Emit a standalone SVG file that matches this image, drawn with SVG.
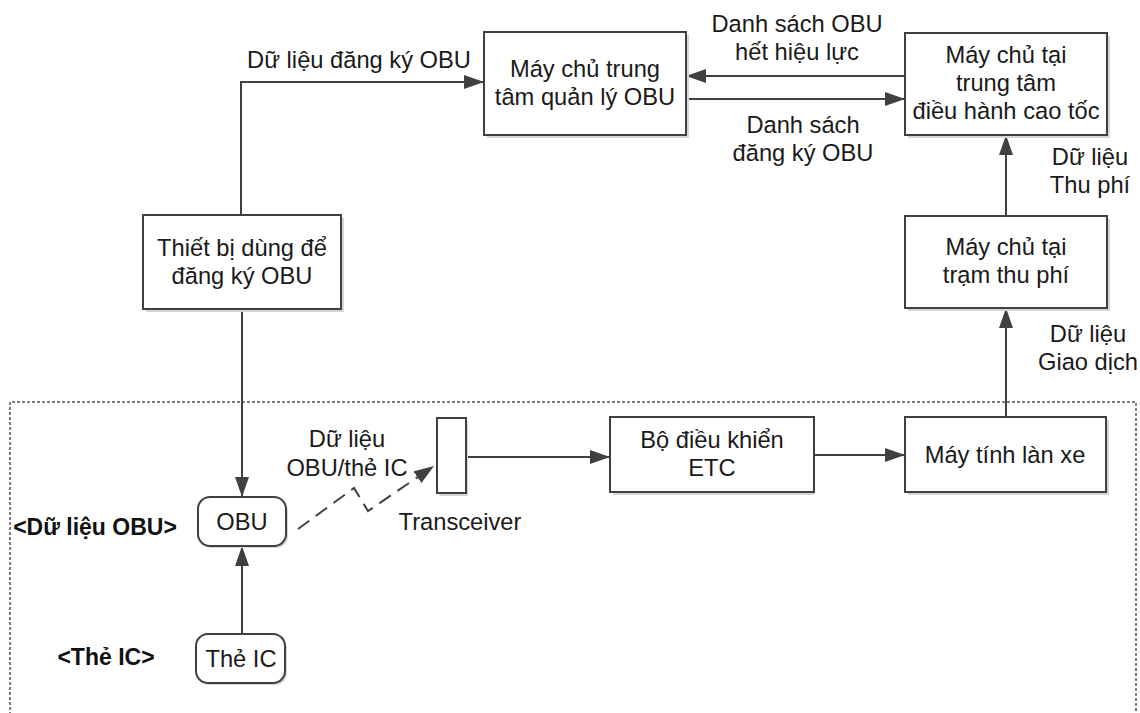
<svg xmlns="http://www.w3.org/2000/svg" width="1140" height="713" viewBox="0 0 1140 713">
  <defs>
    <marker id="arrow" markerWidth="20" markerHeight="14" refX="20" refY="7" orient="auto" markerUnits="userSpaceOnUse">
      <path d="M0,0 L20,7 L0,14 Z" fill="#404040"/>
    </marker>
    <style>
      .box { fill: #ffffff; stroke: #404040; stroke-width: 2; }
      .shadow { fill: #d6d6d6; stroke: none; }
      .t { font-family: "Liberation Sans", Arial, sans-serif; font-size: 23.7px; fill: #1a1a1a; text-anchor: middle; }
      .lbl { font-family: "Liberation Sans", Arial, sans-serif; font-size: 23px; font-weight: bold; fill: #111111; text-anchor: middle; }
      .wire { fill: none; stroke: #404040; stroke-width: 2; }
      .dash { fill: none; stroke: #404040; stroke-width: 2; stroke-dasharray: 14 8; }
      .zone { fill: none; stroke: #555555; stroke-width: 1.5; stroke-dasharray: 3 2; }
    </style>
  </defs>

  <rect x="0" y="0" width="1140" height="713" fill="#ffffff"/>

  <!-- lane equipment zone (dotted, open at the bottom) -->
  <path class="zone" d="M10,720 L10,402 L1136,402 L1136,720"/>

  <!-- connectors -->
  <g id="connectors">
    <polyline class="wire" points="241,215 241,82 484,82" marker-end="url(#arrow)"/>
    <line class="wire" x1="905" y1="76" x2="686" y2="76" marker-end="url(#arrow)"/>
    <line class="wire" x1="686" y1="99" x2="905" y2="99" marker-end="url(#arrow)"/>
    <line class="wire" x1="1006" y1="216" x2="1006" y2="135" marker-end="url(#arrow)"/>
    <line class="wire" x1="1006" y1="417" x2="1006" y2="308" marker-end="url(#arrow)"/>
    <line class="wire" x1="242" y1="309" x2="242" y2="497" marker-end="url(#arrow)"/>
    <line class="wire" x1="242" y1="634" x2="242" y2="546" marker-end="url(#arrow)"/>
    <line class="wire" x1="466" y1="457" x2="610" y2="457" marker-end="url(#arrow)"/>
    <line class="wire" x1="814" y1="455" x2="905" y2="455" marker-end="url(#arrow)"/>
    <!-- radio link OBU -> transceiver -->
    <polyline class="dash" points="298,529 354,488 368,511 434,466" marker-end="url(#arrow)"/>
  </g>

  <!-- connector labels -->
  <g id="labels">
    <text class="t" x="359" y="68">Dữ liệu đăng ký OBU</text>
    <text class="t" x="797" y="32">Danh sách OBU</text>
    <text class="t" x="797" y="60">hết hiệu lực</text>
    <text class="t" x="803" y="133">Danh sách</text>
    <text class="t" x="803" y="161">đăng ký OBU</text>
    <text class="t" x="1090" y="165">Dữ liệu</text>
    <text class="t" x="1090" y="193">Thu phí</text>
    <text class="t" x="1088" y="342">Dữ liệu</text>
    <text class="t" x="1088" y="370">Giao dịch</text>
    <text class="t" x="347" y="447">Dữ liệu</text>
    <text class="t" x="347" y="476">OBU/thẻ IC</text>
    <text class="lbl" x="95" y="535">&lt;Dữ liệu OBU&gt;</text>
    <text class="lbl" x="106" y="665">&lt;Thẻ IC&gt;</text>
  </g>

  <g id="central-obu-server">
    <rect class="shadow" x="487" y="35" width="202" height="103"/>
    <rect class="box" x="484" y="32" width="202" height="103"/>
    <text class="t" x="585" y="77">Máy chủ trung</text>
    <text class="t" x="585" y="105">tâm quản lý OBU</text>
  </g>

  <g id="highway-center-server">
    <rect class="shadow" x="908" y="36" width="202" height="102"/>
    <rect class="box" x="905" y="33" width="202" height="102"/>
    <text class="t" x="1006" y="63">Máy chủ tại</text>
    <text class="t" x="1006" y="91">trung tâm</text>
    <text class="t" x="1006" y="119">điều hành cao tốc</text>
  </g>

  <g id="registration-device">
    <rect class="shadow" x="146" y="218" width="198" height="94"/>
    <rect class="box" x="143" y="215" width="198" height="94"/>
    <text class="t" x="242" y="256">Thiết bị dùng để</text>
    <text class="t" x="242" y="284">đăng ký OBU</text>
  </g>

  <g id="toll-station-server">
    <rect class="shadow" x="908" y="219" width="202" height="92"/>
    <rect class="box" x="905" y="216" width="202" height="92"/>
    <text class="t" x="1006" y="255">Máy chủ tại</text>
    <text class="t" x="1006" y="283">trạm thu phí</text>
  </g>

  <g id="transceiver">
    <rect class="shadow" x="439" y="421" width="29" height="75"/>
    <rect class="box" x="437" y="418" width="29" height="75"/>
    <text class="t" x="460" y="530">Transceiver</text>
  </g>

  <g id="etc-controller">
    <rect class="shadow" x="613" y="420" width="201" height="75"/>
    <rect class="box" x="610" y="417" width="204" height="75"/>
    <text class="t" x="712" y="448">Bộ điều khiển</text>
    <text class="t" x="712" y="476">ETC</text>
  </g>

  <g id="lane-computer">
    <rect class="shadow" x="908" y="420" width="201" height="75"/>
    <rect class="box" x="905" y="417" width="201" height="75"/>
    <text class="t" x="1005" y="463">Máy tính làn xe</text>
  </g>

  <g id="obu">
    <rect class="shadow" x="200" y="499" width="88" height="49" rx="12"/>
    <rect class="box" x="198" y="497" width="88" height="49" rx="12"/>
    <text class="t" x="242" y="530">OBU</text>
  </g>

  <g id="ic-card">
    <rect class="shadow" x="198" y="636" width="89" height="49" rx="12"/>
    <rect class="box" x="196" y="634" width="89" height="49" rx="12"/>
    <text class="t" x="241" y="667">Thẻ IC</text>
  </g>
</svg>
